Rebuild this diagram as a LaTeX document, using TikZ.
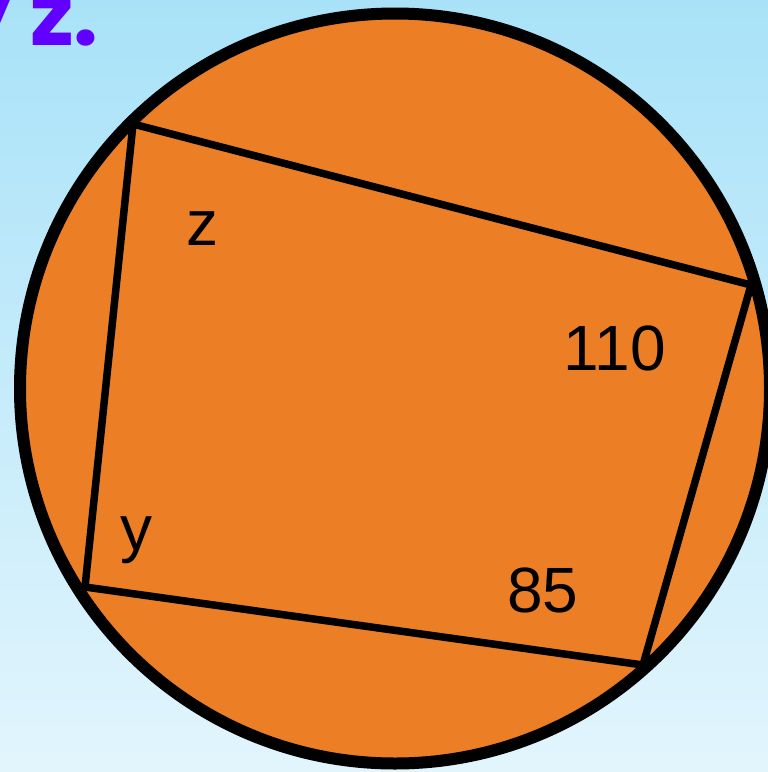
\documentclass[tikz,border=0pt]{standalone}
\usepackage{fontspec}
\setmainfont{Liberation Sans}
\newfontfamily\titlefont{Poppins}
\definecolor{bgtop}{HTML}{A9E2F8}
\definecolor{bgbot}{HTML}{E2F5FD}
\definecolor{disc}{HTML}{EC7F26}
\definecolor{ttl}{HTML}{6200FF}
\tikzset{
  lbl/.style={font=\fontsize{64}{64}\selectfont, text=black, inner sep=0pt},
  ttlstyle/.style={font=\titlefont\bfseries\fontsize{88}{88}\selectfont, text=ttl, inner sep=0pt},
  side/.style={draw=black, line width=7.5pt, line join=miter}
}
\begin{document}
\begin{tikzpicture}[x=1pt,y=-1pt]
\useasboundingbox (0,0) rectangle (768,772);
\clip (0,0) rectangle (768,772);
\shade[top color=bgtop, bottom color=bgbot] (0,0) rectangle (768,772);
\node[ttlstyle, anchor=base east] (title) at (99,45) {y z.};
\draw[fill=disc, draw=black, line width=12pt] (395,388.5) circle[radius=375];
\coordinate (A) at (133,124);
\coordinate (B) at (751,285);
\coordinate (C) at (643,665);
\coordinate (D) at (85,587);
\draw[side] (A) -- (B) -- (C) -- (D) -- cycle;
\node[lbl, anchor=base] (z) at (202,245) {z};
\node[lbl, anchor=base] (a110) at (615,370) {110};
\node[lbl, anchor=base] (y) at (136,550) {y};
\node[lbl, anchor=base] (a85) at (543,612) {85};
\end{tikzpicture}
\end{document}
